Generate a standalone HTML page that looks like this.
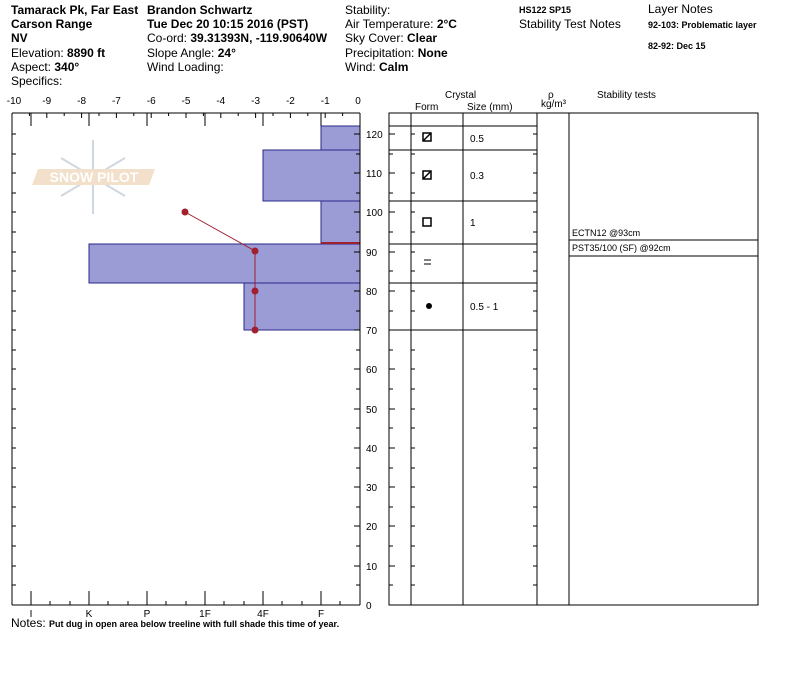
<!DOCTYPE html>
<html><head><meta charset="utf-8"><style>
body{margin:0;background:#fff;width:800px;height:676px;overflow:hidden}
svg{display:block;font-family:"Liberation Sans",sans-serif}
</style></head><body>
<svg width="800" height="676" viewBox="0 0 800 676" xmlns="http://www.w3.org/2000/svg">
<g font-size="12" fill="#000">
<text x="11" y="14" font-weight="bold">Tamarack Pk, Far East</text>
<text x="147" y="14" font-weight="bold">Brandon Schwartz</text>
<text x="11" y="28" font-weight="bold">Carson Range</text>
<text x="11" y="42" font-weight="bold">NV</text>
<text x="11" y="57">Elevation: <tspan font-weight="bold">8890 ft</tspan></text>
<text x="11" y="71">Aspect: <tspan font-weight="bold">340°</tspan></text>
<text x="11" y="85">Specifics:</text>
<text x="147" y="28" font-weight="bold">Tue Dec 20 10:15 2016 (PST)</text>
<text x="147" y="42">Co-ord: <tspan font-weight="bold">39.31393N, -119.90640W</tspan></text>
<text x="147" y="57">Slope Angle: <tspan font-weight="bold">24°</tspan></text>
<text x="147" y="71">Wind Loading:</text>
<text x="345" y="14">Stability:</text>
<text x="345" y="28">Air Temperature: <tspan font-weight="bold">2°C</tspan></text>
<text x="345" y="42">Sky Cover: <tspan font-weight="bold">Clear</tspan></text>
<text x="345" y="57">Precipitation: <tspan font-weight="bold">None</tspan></text>
<text x="345" y="71">Wind:  <tspan font-weight="bold">Calm</tspan></text>
<text x="519" y="13" font-size="9" font-weight="bold">HS122  SP15</text>
<text x="519" y="28">Stability Test Notes</text>
<text x="648" y="13">Layer Notes</text>
<text x="648" y="28" font-size="9" font-weight="bold">92-103: Problematic layer</text>
<text x="648" y="49" font-size="9" font-weight="bold">82-92: Dec 15</text>
</g>
<!-- logo -->
<g opacity="0.55">
<g stroke="#a8b8c8" stroke-width="2" fill="none">
<line x1="93" y1="140" x2="93" y2="214"/>
<line x1="61" y1="158" x2="125" y2="196"/>
<line x1="61" y1="196" x2="125" y2="158"/>
</g>
<polygon points="32,185 38,169 155,169 149,185" fill="#e8c8a0"/>
<text x="94" y="182" font-size="14" text-anchor="middle" fill="#fff" font-weight="bold">SNOW PILOT</text>
</g>
<!-- bars -->
<g fill="#9b9bd6" stroke="#2a2a8a" stroke-width="1">
<rect x="321" y="126" width="39" height="24"/>
<rect x="263" y="150" width="97" height="51"/>
<rect x="321" y="201" width="39" height="43"/>
<rect x="89" y="244" width="271" height="39"/>
<rect x="244" y="283" width="116" height="47"/>
</g>
<line x1="321" y1="243" x2="360" y2="243" stroke="#a02030" stroke-width="2"/>
<g stroke="#a02030" stroke-width="1" fill="#a02030">
<polyline points="185,212 255,251 255,291 255,330" fill="none"/>
<circle cx="185" cy="212" r="3"/><circle cx="255" cy="251" r="3"/><circle cx="255" cy="291" r="3"/><circle cx="255" cy="330" r="3"/>
</g>
<!-- chart axes -->
<g stroke="#000" stroke-width="1" fill="none">
<line x1="12" y1="113" x2="12" y2="605"/>
<line x1="360" y1="113" x2="360" y2="605"/>
<line x1="12" y1="113" x2="360" y2="113"/>
<line x1="12" y1="605" x2="360" y2="605"/>
<!-- major cm ticks (every 10) -->
<path d="M354 605H360M354 566H360M354 526H360M354 487H360M354 448H360M354 409H360M354 369H360M354 330H360M354 291H360M354 252H360M354 212H360M354 173H360M354 134H360
M389 605H395M389 566H395M389 526H395M389 487H395M389 448H395M389 409H395M389 369H395M389 330H395M389 291H395M389 252H395M389 212H395M389 173H395M389 134H395
M356 585H360M356 546H360M356 507H360M356 468H360M356 428H360M356 389H360M356 350H360M356 311H360M356 271H360M356 232H360M356 193H360M356 154H360
M389 585H393M389 546H393M389 507H393M389 468H393M389 428H393M389 389H393M389 350H393M389 311H393M389 271H393M389 232H393M389 193H393M389 154H393
M12 585H16M12 566H16M12 546H16M12 526H16M12 507H16M12 487H16M12 468H16M12 448H16M12 428H16M12 409H16M12 389H16M12 369H16M12 350H16M12 330H16M12 311H16M12 291H16M12 271H16M12 252H16M12 232H16M12 212H16M12 193H16M12 173H16M12 154H16M12 134H16
M411 585H415M411 566H415M411 546H415M411 526H415M411 507H415M411 487H415M411 468H415M411 448H415M411 428H415M411 409H415M411 389H415M411 369H415M411 350H415M411 330H415M411 311H415M411 291H415M411 271H415M411 252H415M411 232H415M411 212H415M411 193H415M411 173H415M411 154H415M411 134H415
M533 585H537M533 566H537M533 546H537M533 526H537M533 507H537M533 487H537M533 468H537M533 448H537M533 428H537M533 409H537M533 389H537M533 369H537M533 350H537M533 330H537M533 311H537M533 291H537M533 271H537M533 252H537M533 232H537M533 212H537M533 193H537M533 173H537M533 154H537M533 134H537
M29.4 113V116M46.8 113V118M64.2 113V116M81.6 113V118M99 113V116M116.4 113V118M133.8 113V116M151.2 113V118M168.6 113V116M186 113V118M203.4 113V116M220.8 113V118M238.2 113V116M255.6 113V118M273 113V116M290.4 113V118M307.8 113V116M325.2 113V118M342.6 113V116
M31 113V126M89 113V126M147 113V126M205 113V126M263 113V126M321 113V126
M31 605V591M89 605V591M147 605V591M205 605V591M263 605V591M321 605V591
M50 605V601M70 605V601M108 605V601M128 605V601M166 605V601M186 605V601M224 605V601M244 605V601M282 605V601M302 605V601M340 605V601"/>
</g>
<g font-size="10" fill="#000">
<g text-anchor="middle">
<text x="14" y="104">-10</text><text x="46.8" y="104">-9</text><text x="81.6" y="104">-8</text><text x="116.4" y="104">-7</text><text x="151.2" y="104">-6</text><text x="186" y="104">-5</text><text x="220.8" y="104">-4</text><text x="255.6" y="104">-3</text><text x="290.4" y="104">-2</text><text x="325.2" y="104">-1</text><text x="358" y="104">0</text>
<text x="31" y="617">I</text><text x="89" y="617">K</text><text x="147" y="617">P</text><text x="205" y="617">1F</text><text x="263" y="617">4F</text><text x="321" y="617">F</text>
</g>
<text x="366" y="609">0</text><text x="366" y="570">10</text><text x="366" y="530">20</text><text x="366" y="491">30</text><text x="366" y="452">40</text><text x="366" y="413">50</text><text x="366" y="373">60</text><text x="366" y="334">70</text><text x="366" y="295">80</text><text x="366" y="256">90</text><text x="366" y="216">100</text><text x="366" y="177">110</text><text x="366" y="138">120</text>
</g>
<!-- table -->
<g stroke="#000" stroke-width="1" fill="none">
<rect x="389" y="113" width="369" height="492"/>
<line x1="411" y1="113" x2="411" y2="605"/>
<line x1="463" y1="113" x2="463" y2="605"/>
<line x1="537" y1="113" x2="537" y2="605"/>
<line x1="569" y1="113" x2="569" y2="605"/>
<line x1="389" y1="126" x2="537" y2="126"/>
<line x1="389" y1="150" x2="537" y2="150"/>
<line x1="389" y1="201" x2="537" y2="201"/>
<line x1="389" y1="244" x2="537" y2="244"/>
<line x1="389" y1="283" x2="537" y2="283"/>
<line x1="389" y1="330" x2="537" y2="330"/>
<line x1="569" y1="240" x2="758" y2="240"/>
<line x1="569" y1="256" x2="758" y2="256"/>
<rect x="423" y="133" width="8" height="8" stroke-width="1.5"/><line x1="423" y1="141" x2="431" y2="133" stroke-width="1.5"/>
<rect x="423" y="171" width="8" height="8" stroke-width="1.5"/><line x1="423" y1="179" x2="431" y2="171" stroke-width="1.5"/>
<rect x="423" y="218" width="8" height="8" stroke-width="1.5"/>
<line x1="424" y1="260" x2="431" y2="260"/><line x1="424" y1="264" x2="431" y2="264"/>
</g>
<circle cx="429" cy="306" r="3" fill="#000"/>
<g font-size="10" fill="#000">
<text x="445" y="98">Crystal</text>
<text x="415" y="110">Form</text>
<text x="467" y="110">Size (mm)</text>
<text x="548" y="98">ρ</text>
<text x="541" y="107">kg/m³</text>
<text x="597" y="98">Stability tests</text>
<text x="470" y="142">0.5</text>
<text x="470" y="179">0.3</text>
<text x="470" y="226">1</text>
<text x="470" y="310">0.5 - 1</text>
<text x="572" y="236" font-size="9">ECTN12 @93cm</text>
<text x="572" y="251" font-size="9">PST35/100 (SF) @92cm</text>
</g>
<text x="11" y="627" font-size="12">Notes: <tspan font-size="9" font-weight="bold">Put dug in open area below treeline with full shade this time of year.</tspan></text>
</svg>
</body></html>
